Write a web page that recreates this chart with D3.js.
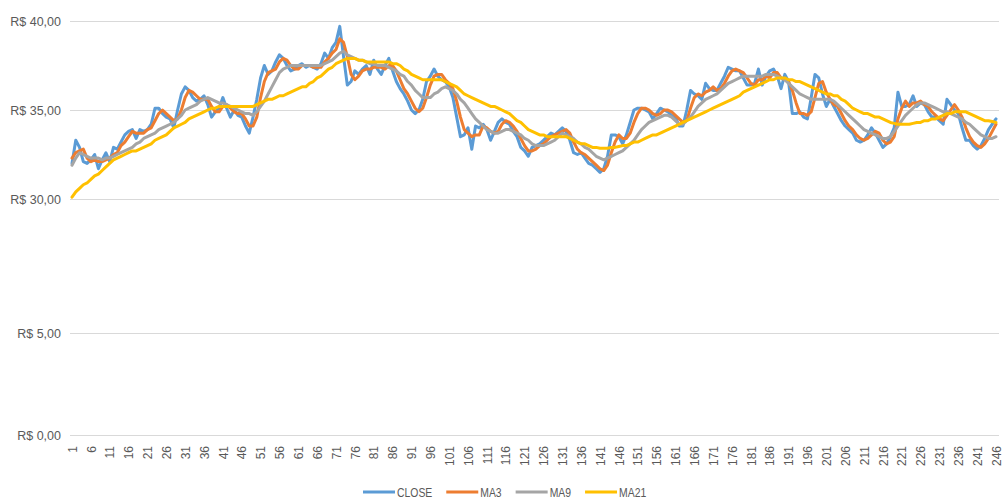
<!DOCTYPE html>
<html>
<head>
<meta charset="utf-8">
<script src="https://cdn.jsdelivr.net/npm/d3@7"></script>
<style>
  html, body { margin: 0; padding: 0; background: #fff; }
  svg { display: block; font-family: "Liberation Sans", Arial, sans-serif; }
</style>
</head>
<body>
<svg id="chart" width="1008" height="500"></svg>
<script>
// Daily closing price and its 3-, 9- and 21-period moving averages
const close = [
32.0,33.3,32.9,32.1,32.0,32.2,32.5,31.7,32.2,32.6,32.1,32.9,32.8,33.2,33.6,33.8,33.9,33.4,33.9,33.8,
33.9,34.2,35.1,35.1,34.8,34.6,34.5,34.0,35.0,35.9,36.3,36.1,35.7,35.5,35.6,35.8,35.3,34.6,34.9,35.1,
35.7,35.1,34.6,35.0,34.7,34.6,34.1,33.7,34.6,35.6,36.8,37.5,37.0,37.2,37.7,38.1,37.9,37.5,37.2,37.3,
37.5,37.6,37.4,37.5,37.4,37.3,37.6,38.2,37.9,38.5,38.8,39.7,38.0,36.4,36.6,37.2,37.0,37.3,37.5,37.0,
37.8,37.3,37.0,37.5,37.9,37.2,36.6,36.2,35.9,35.5,35.0,34.8,35.0,35.6,36.6,36.9,37.3,36.9,36.7,36.6,
36.3,35.7,34.6,33.5,33.6,34.0,32.8,34.1,34.0,34.2,33.9,33.3,33.8,34.3,34.5,34.3,34.2,33.8,33.5,32.9,
32.7,32.4,32.9,33.0,33.1,33.3,33.5,33.7,33.6,33.8,34.0,33.8,33.3,32.6,32.5,32.6,32.3,32.0,31.9,31.7,
31.5,31.7,32.4,33.6,33.6,33.5,33.1,33.6,34.3,35.0,35.1,35.1,35.0,34.9,34.5,34.8,35.1,35.0,34.9,34.7,
34.6,34.1,34.1,35.0,36.1,35.9,35.8,35.6,36.5,36.2,36.1,36.1,36.5,36.9,37.4,37.3,37.2,37.2,36.8,36.4,
36.4,36.5,37.3,36.4,36.9,37.2,37.3,36.9,36.2,37.0,36.6,34.8,34.8,34.9,34.6,34.5,35.7,37.0,36.8,35.9,
35.2,35.6,35.2,34.8,34.4,34.1,33.9,33.7,33.3,33.2,33.3,33.6,34.0,33.7,33.3,32.9,33.1,33.5,34.0,36.0,
35.2,35.2,35.3,35.8,35.2,35.4,35.3,34.9,34.6,34.6,34.4,34.2,35.6,35.3,35.0,34.8,34.0,33.3,33.3,33.0,
32.8,33.0,33.4,33.9,34.2,34.5
];
const ma3 = [
32.3,32.6,32.7,32.8,32.3,32.1,32.2,32.1,32.1,32.2,32.3,32.5,32.6,33.0,33.2,33.5,33.8,33.7,33.7,33.7,
33.9,34.0,34.4,34.8,35.0,34.8,34.6,34.4,34.5,35.0,35.7,36.1,36.0,35.8,35.6,35.6,35.6,35.2,34.9,34.9,
35.2,35.3,35.1,34.9,34.8,34.8,34.5,34.1,34.1,34.6,35.7,36.6,37.1,37.2,37.3,37.7,37.9,37.8,37.5,37.3,
37.3,37.5,37.5,37.5,37.4,37.4,37.4,37.7,37.9,38.2,38.4,39.0,38.8,38.0,37.0,36.7,36.9,37.2,37.3,37.3,
37.4,37.4,37.4,37.3,37.5,37.5,37.2,36.7,36.2,35.9,35.5,35.1,34.9,35.1,35.7,36.4,36.9,37.0,37.0,36.7,
36.5,36.2,35.5,34.6,33.9,33.7,33.5,33.6,33.6,34.1,34.0,33.8,33.7,33.8,34.2,34.4,34.3,34.1,33.8,33.4,
33.0,32.7,32.7,32.8,33.0,33.1,33.3,33.5,33.6,33.7,33.8,33.9,33.7,33.2,32.8,32.6,32.5,32.3,32.1,31.9,
31.7,31.6,31.9,32.6,33.2,33.6,33.4,33.4,33.7,34.3,34.8,35.1,35.1,35.0,34.8,34.7,34.8,35.0,35.0,34.9,
34.7,34.5,34.3,34.4,35.1,35.7,35.9,35.8,36.0,36.1,36.3,36.1,36.2,36.5,36.9,37.2,37.3,37.2,37.1,36.8,
36.5,36.4,36.7,36.7,36.9,36.8,37.1,37.1,36.8,36.7,36.6,36.1,35.4,34.8,34.8,34.7,34.9,35.7,36.5,36.6,
36.0,35.6,35.3,35.2,34.8,34.4,34.1,33.9,33.6,33.4,33.3,33.4,33.6,33.8,33.7,33.3,33.1,33.2,33.5,34.5,
35.1,35.5,35.2,35.4,35.4,35.5,35.3,35.2,34.9,34.7,34.5,34.4,34.7,35.0,35.3,35.0,34.6,34.0,33.5,33.2,
33.0,32.9,33.1,33.4,33.8,34.2
];
const ma9 = [
31.9,32.3,32.6,32.5,32.4,32.3,32.3,32.3,32.2,32.3,32.3,32.4,32.5,32.6,32.7,32.8,32.9,33.1,33.2,33.4,
33.5,33.6,33.7,33.9,34.0,34.1,34.2,34.3,34.5,34.7,35.0,35.1,35.2,35.3,35.5,35.6,35.7,35.6,35.5,35.4,
35.4,35.3,35.2,35.1,35.0,34.9,34.8,34.8,34.7,34.9,35.2,35.5,35.9,36.3,36.7,37.1,37.3,37.4,37.5,37.5,
37.5,37.5,37.5,37.5,37.5,37.5,37.5,37.6,37.7,37.8,38.0,38.2,38.3,38.1,38.0,37.9,37.8,37.8,37.7,37.6,
37.6,37.5,37.5,37.5,37.4,37.3,37.2,37.0,36.9,36.6,36.4,36.1,35.9,35.7,35.7,35.7,35.9,36.0,36.2,36.3,
36.2,36.1,35.9,35.6,35.4,35.1,34.8,34.5,34.3,34.1,33.9,33.8,33.7,33.7,33.8,33.9,33.9,33.8,33.7,33.6,
33.4,33.3,33.1,33.0,33.0,33.0,33.1,33.2,33.3,33.5,33.7,33.6,33.5,33.4,33.2,33.1,32.9,32.8,32.6,32.4,
32.3,32.2,32.3,32.4,32.5,32.6,32.7,32.9,33.1,33.3,33.6,33.9,34.1,34.3,34.4,34.5,34.6,34.7,34.7,34.6,
34.4,34.2,34.2,34.4,34.6,34.9,35.2,35.4,35.6,35.7,35.8,35.9,36.1,36.3,36.5,36.6,36.7,36.8,36.9,36.9,
36.9,36.9,36.9,36.9,37.0,37.0,37.0,36.9,36.8,36.7,36.5,36.3,36.1,35.9,35.8,35.7,35.6,35.6,35.6,35.6,
35.6,35.6,35.5,35.3,35.1,34.9,34.7,34.5,34.3,34.1,33.9,33.8,33.7,33.6,33.5,33.4,33.4,33.5,33.8,34.1,
34.4,34.7,34.9,35.1,35.3,35.4,35.4,35.3,35.2,35.1,35.0,34.9,34.9,34.8,34.7,34.6,34.5,34.3,34.2,34.0,
33.8,33.6,33.5,33.4,33.4,33.5
];
const ma21 = [
30.1,30.4,30.6,30.8,30.9,31.1,31.3,31.4,31.6,31.8,32.0,32.2,32.3,32.4,32.5,32.6,32.7,32.7,32.8,32.9,
33.0,33.1,33.3,33.4,33.5,33.6,33.8,34.0,34.1,34.2,34.3,34.5,34.6,34.7,34.8,34.9,35.0,35.1,35.1,35.2,
35.2,35.2,35.2,35.2,35.2,35.2,35.2,35.2,35.2,35.3,35.4,35.5,35.6,35.6,35.7,35.8,35.8,35.9,36.0,36.1,
36.2,36.3,36.3,36.5,36.6,36.8,36.9,37.1,37.3,37.4,37.6,37.7,37.8,37.9,37.9,37.9,37.8,37.8,37.7,37.7,
37.7,37.7,37.7,37.7,37.7,37.6,37.6,37.5,37.3,37.2,37.0,36.9,36.8,36.7,36.7,36.7,36.7,36.7,36.7,36.6,
36.5,36.4,36.3,36.1,35.9,35.8,35.7,35.6,35.5,35.4,35.3,35.2,35.2,35.1,35.0,34.9,34.8,34.6,34.4,34.3,
34.1,33.9,33.8,33.7,33.6,33.6,33.5,33.5,33.5,33.5,33.5,33.5,33.4,33.3,33.2,33.1,33.1,33.0,32.9,32.9,
32.85,32.85,32.85,32.9,32.9,32.95,33.0,33.0,33.1,33.2,33.2,33.3,33.4,33.5,33.6,33.6,33.7,33.8,33.9,34.0,
34.1,34.2,34.3,34.4,34.5,34.6,34.7,34.8,34.9,35.0,35.1,35.2,35.3,35.4,35.5,35.6,35.7,35.8,36.0,36.1,
36.2,36.3,36.4,36.5,36.6,36.7,36.7,36.8,36.8,36.8,36.7,36.7,36.6,36.6,36.5,36.4,36.3,36.2,36.1,36.0,
35.9,35.9,35.8,35.8,35.6,35.5,35.3,35.1,35.0,34.9,34.8,34.8,34.7,34.6,34.6,34.5,34.4,34.3,34.25,34.2,
34.2,34.2,34.2,34.25,34.3,34.3,34.4,34.4,34.5,34.5,34.6,34.7,34.8,34.8,34.9,34.9,34.9,34.9,34.8,34.7,
34.6,34.5,34.4,34.4,34.35,34.3
];

const seriesNames = ["CLOSE", "MA3", "MA9", "MA21"];
const seriesColors = ["#5B9BD5", "#ED7D31", "#A5A5A5", "#FFC000"];
const seriesValues = [close, ma3, ma9, ma21];

const yTicks = [0, 5, 30, 35, 40];
const days = d3.range(1, close.length + 1);
const xTickValues = days.filter(d => (d - 1) % 5 === 0);

const svg = d3.select("#chart");
const left = 70, right = 999;

// broken value axis: the lower band 0..5 and the upper band 30..40
const y = d3.scaleLinear().domain([0, 5, 30, 35, 40]).range([435, 333, 199, 110, 21]);
const x = d3.scaleLinear().domain([1, close.length]).range([72, 996]);

const fmt = v => "R$ " + d3.format(".2f")(v).replace(".", ",");

// gridlines + value labels
const yAxis = svg.append("g")
  .attr("transform", `translate(${left},0)`)
  .call(d3.axisLeft(y).tickValues(yTicks).tickFormat(fmt).tickSize(-(right - left)).tickPadding(9));
yAxis.select(".domain").remove();
yAxis.selectAll(".tick line").attr("stroke", "#D9D9D9").attr("stroke-width", 1);
yAxis.selectAll(".tick text")
  .attr("fill", "#595959")
  .style("font-size", "12.5px")
  .style("font-family", "'Liberation Sans', Arial, sans-serif");

// category labels, rotated
const xAxis = svg.append("g")
  .attr("transform", `translate(0,${y(0)})`)
  .call(d3.axisBottom(x).tickValues(xTickValues).tickFormat(d3.format("d")).tickSize(0));
xAxis.select(".domain").remove();
xAxis.selectAll(".tick text")
  .attr("fill", "#595959")
  .style("font-size", "12px")
  .attr("text-anchor", "end")
  .attr("transform", "rotate(-90)")
  .attr("x", -11)
  .attr("y", 0)
  .attr("dy", "0.35em");

// series lines
const line = d3.line()
  .x((d, i) => x(i + 1))
  .y(d => y(d));

svg.append("g")
  .selectAll("path")
  .data(seriesValues)
  .join("path")
  .attr("d", line)
  .attr("fill", "none")
  .attr("stroke", (d, i) => seriesColors[i])
  .attr("stroke-width", 3)
  .attr("stroke-linejoin", "round")
  .attr("stroke-linecap", "round");

// legend, set in a condensed face
const legend = svg.append("g").attr("transform", "translate(0,492)");
let cursor = 363;
seriesNames.forEach((name, i) => {
  const item = legend.append("g");
  item.append("line")
    .attr("x1", cursor).attr("x2", cursor + 32)
    .attr("y1", 0).attr("y2", 0)
    .attr("stroke", seriesColors[i]).attr("stroke-width", 3);
  const t = item.append("text")
    .attr("x", cursor + 34).attr("y", 0).attr("dy", "0.35em")
    .attr("fill", "#595959")
    .style("font-size", "13px")
    .text(name);
  const w = t.node().getComputedTextLength() * 0.8;
  t.attr("textLength", w).attr("lengthAdjust", "spacingAndGlyphs");
  cursor += 34 + w + 14;
});
</script>
</body>
</html>
